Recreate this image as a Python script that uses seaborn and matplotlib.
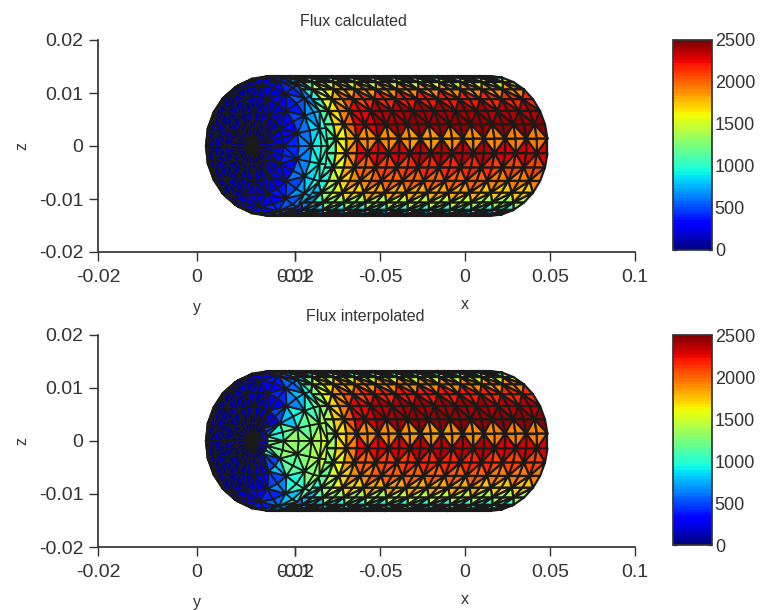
import numpy as np
import matplotlib
matplotlib.use("Agg")
import matplotlib.pyplot as plt
import matplotlib.tri as mtri
import seaborn as sns

# Flux on the cylinder, one row per band (top to bottom), one column per section
flux_calc_body = [
    [250, 350, 500, 600, 650, 700, 700, 700],
    [450, 700, 900, 1000, 1050, 1100, 1100, 1150],
    [700, 1100, 1300, 1450, 1500, 1500, 1550, 1550],
    [900, 1400, 1600, 1800, 1850, 1900, 1900, 1900],
    [1000, 1550, 1800, 2050, 2150, 2200, 2200, 2150],
    [1100, 1650, 1950, 2250, 2350, 2400, 2400, 2350],
    [1150, 1700, 2000, 2300, 2400, 2450, 2450, 2450],
    [1100, 1600, 1800, 1900, 1900, 1850, 1900, 1950],
    [1100, 1650, 1950, 2250, 2300, 2350, 2350, 2300],
    [1000, 1550, 1800, 2000, 2100, 2150, 2150, 2100],
    [950, 1450, 1700, 1900, 2000, 2000, 2000, 1950],
    [800, 1300, 1550, 1700, 1800, 1800, 1800, 1750],
    [650, 1050, 1250, 1350, 1400, 1450, 1450, 1400],
    [450, 700, 850, 950, 1000, 1050, 1050, 1050],
    [250, 350, 450, 550, 600, 650, 650, 650],
]
flux_interp_body = [
    [300, 400, 500, 600, 650, 700, 700, 700],
    [600, 800, 950, 1050, 1100, 1100, 1100, 1150],
    [850, 1200, 1350, 1450, 1500, 1550, 1550, 1550],
    [1100, 1450, 1650, 1800, 1850, 1900, 1900, 1900],
    [1250, 1600, 1850, 2050, 2150, 2200, 2200, 2150],
    [1350, 1700, 1950, 2250, 2350, 2400, 2400, 2350],
    [1400, 1750, 2050, 2300, 2400, 2450, 2450, 2450],
    [1350, 1650, 1850, 1900, 1900, 1850, 1900, 1950],
    [1350, 1700, 1950, 2250, 2300, 2350, 2350, 2300],
    [1250, 1600, 1850, 2000, 2100, 2150, 2150, 2100],
    [1150, 1500, 1700, 1900, 2000, 2000, 2000, 1950],
    [1000, 1350, 1550, 1700, 1800, 1800, 1800, 1750],
    [800, 1100, 1250, 1350, 1400, 1450, 1450, 1400],
    [600, 750, 850, 950, 1000, 1050, 1050, 1050],
    [300, 400, 450, 550, 600, 650, 650, 650],
]
# How many mesh columns each section covers
section_repeats = [1, 1, 1, 2, 3, 4, 4, 5]

# Flux on the end cap, one row per ring from the pole out, half the sectors (right to left)
flux_calc_cap = [
    [120, 120, 120, 100, 100, 100, 100, 100, 100, 100, 100, 100],
    [260, 220, 180, 150, 130, 120, 110, 110, 100, 100, 100, 100],
    [420, 350, 280, 220, 170, 140, 120, 110, 110, 100, 100, 100],
    [650, 600, 480, 380, 280, 200, 160, 130, 110, 110, 100, 100],
    [900, 850, 700, 520, 400, 300, 220, 170, 140, 120, 110, 100],
    [1050, 950, 800, 620, 500, 400, 320, 240, 190, 150, 120, 110],
]
flux_interp_cap = [
    [250, 200, 150, 110, 100, 100, 100, 100, 100, 100, 100, 100],
    [1200, 950, 500, 250, 150, 120, 110, 110, 100, 100, 100, 100],
    [1300, 1150, 800, 480, 260, 170, 130, 110, 110, 100, 100, 100],
    [1250, 1150, 950, 650, 420, 280, 190, 140, 120, 110, 100, 100],
    [1400, 1250, 1050, 800, 560, 380, 260, 190, 140, 120, 110, 100],
    [1500, 1350, 1150, 900, 700, 500, 350, 260, 190, 150, 120, 110],
]

panel_titles = ["Flux calculated", "Flux interpolated"]
z_ticks = [-0.02, -0.01, 0, 0.01, 0.02]
z_tick_labels = ["-0.02", "-0.01", "0", "0.01", "0.02"]
y_ticks = [-0.02, 0, 0.02]
y_tick_labels = ["-0.02", "0", "0.02"]
x_ticks = [-0.1, -0.05, 0, 0.05, 0.1]
x_tick_labels = ["-0.1", "-0.05", "0", "0.05", "0.1"]
flux_ticks = [0, 500, 1000, 1500, 2000, 2500]

# Capsule shape in the units of the x axis and z axis
radius = 0.0132
ring_start = -0.116
ring_end = 0.0147
bulge = 0.034
cap_width = 0.0365
tilt = np.radians(15)

sns.set_theme(style="ticks")
plt.rcParams["font.family"] = ["Liberation Sans", "DejaVu Sans"]
dark = "#333333"
plt.rcParams["axes.edgecolor"] = dark
plt.rcParams["text.color"] = dark
plt.rcParams["xtick.color"] = dark
plt.rcParams["ytick.color"] = dark
plt.rcParams["axes.labelcolor"] = dark

# seaborn refuses jet by name, so take it from matplotlib
jet = plt.get_cmap("jet", 64)


def body_mesh(table):
    # Side of the capsule: rings that bow to the right, bands around the front
    table = np.asarray(table, dtype=float)
    values = np.repeat(table, section_repeats, axis=1)
    n_bands, n_cols = values.shape
    lam = np.linspace(np.pi / 2, -np.pi / 2, n_bands + 1)
    stations = np.linspace(ring_start, ring_end, n_cols + 1)
    xs, zs, tris, flux = [], [], [], []
    for s in stations:
        xs.extend(s + bulge * np.cos(lam))
        zs.extend(radius * np.sin(lam))
    for c in range(n_cols):
        for b in range(n_bands):
            p0 = c * (n_bands + 1) + b
            p1 = p0 + 1
            p2 = p0 + n_bands + 1
            p3 = p2 + 1
            below = min(b + 1, n_bands - 1)
            if (b + c) % 2 == 0:
                tris += [[p0, p2, p3], [p0, p3, p1]]
            else:
                tris += [[p0, p2, p1], [p2, p3, p1]]
            flux += [values[b, c], values[below, c]]
    return np.array(xs), np.array(zs), np.array(tris), np.array(flux)


def cap_mesh(table):
    # Round end: rings around the pole, which sits a little left of the centre
    half = np.asarray(table, dtype=float)
    values = np.hstack([half, half[:, ::-1]])
    n_rings, n_sect = values.shape
    theta = np.linspace(0, np.pi / 2, n_rings + 1)[1:]
    lam = np.linspace(0, 2 * np.pi, n_sect, endpoint=False)
    xs = [ring_start - cap_width * np.sin(tilt)]
    zs = [0.0]
    for t in theta:
        xs.extend(ring_start + cap_width * (np.sin(t) * np.cos(lam) * np.cos(tilt) - np.cos(t) * np.sin(tilt)))
        zs.extend(radius * np.sin(t) * np.sin(lam))
    tris, flux = [], []
    for k in range(n_sect):
        k2 = (k + 1) % n_sect
        tris.append([0, 1 + k, 1 + k2])
        flux.append(values[0, k])
        for r in range(1, n_rings):
            a = 1 + (r - 1) * n_sect + k
            b = 1 + (r - 1) * n_sect + k2
            c = 1 + r * n_sect + k
            d = 1 + r * n_sect + k2
            if (r + k) % 2 == 0:
                tris += [[a, c, d], [a, d, b]]
            else:
                tris += [[a, c, b], [c, d, b]]
            flux += [values[r, k], values[r, k2]]
    return np.array(xs), np.array(zs), np.array(tris), np.array(flux)


def draw_panel(fig, top_px, title, body_table, cap_table):
    W, H = 760, 610
    bottom = 1 - (top_px + 212) / H
    height = 212 / H

    # y axis and z axis on the left
    ax_y = fig.add_axes([98 / W, bottom, 197 / W, height])
    ax_y.set_xlim(-0.02, 0.02)
    ax_y.set_ylim(-0.02, 0.02)
    ax_y.set_xticks(y_ticks, y_tick_labels)
    ax_y.set_yticks(z_ticks, z_tick_labels)
    ax_y.set_xlabel("y", fontsize=11.5, labelpad=10)
    ax_y.set_ylabel("z", fontsize=11.5, labelpad=7)
    ax_y.tick_params(labelsize=14, length=6.5, width=1, pad=6, direction="out")
    ax_y.tick_params(axis="y", pad=4)
    sns.despine(ax=ax_y)

    # x axis on the right, starts where the y axis stops
    ax_x = fig.add_axes([295 / W, bottom, 340 / W, height])
    ax_x.patch.set_alpha(0)
    ax_x.set_xlim(-0.1, 0.1)
    ax_x.set_ylim(-0.02, 0.02)
    ax_x.set_xticks(x_ticks, x_tick_labels)
    ax_x.set_yticks([])
    ax_x.set_xlabel("x", fontsize=11.5, labelpad=8)
    ax_x.tick_params(labelsize=14, length=6.5, width=1, pad=6, direction="out")
    sns.despine(ax=ax_x, left=True)

    parts = [(body_mesh(body_table), 1.6), (cap_mesh(cap_table), 1.3)]
    for (xs, zs, tris, flux), line_w in parts:
        tri = mtri.Triangulation(xs, zs, tris)
        mesh = ax_x.tripcolor(tri, facecolors=flux, cmap=jet, vmin=0, vmax=2500,
                              edgecolors="k", linewidth=line_w, shading="flat")
        mesh.set_clip_on(False)

    fig.text(353 / W if top_px < 100 else 365 / W, 1 - (top_px - 19) / H, title,
             fontsize=11.5, ha="center", va="center")

    # Colour bar next to the panel
    cax = fig.add_axes([673 / W, 1 - (top_px + 210) / H, 39 / W, 210 / H])
    cb = fig.colorbar(mesh, cax=cax, ticks=flux_ticks)
    cb.ax.tick_params(labelsize=13, length=3, width=1, direction="in", pad=2, left=True, right=True)
    cb.outline.set_edgecolor(dark)


fig = plt.figure(figsize=(7.6, 6.1), dpi=100)
draw_panel(fig, 40, panel_titles[0], flux_calc_body, flux_calc_cap)
draw_panel(fig, 335, panel_titles[1], flux_interp_body, flux_interp_cap)
fig.savefig("out.png", dpi=100)
